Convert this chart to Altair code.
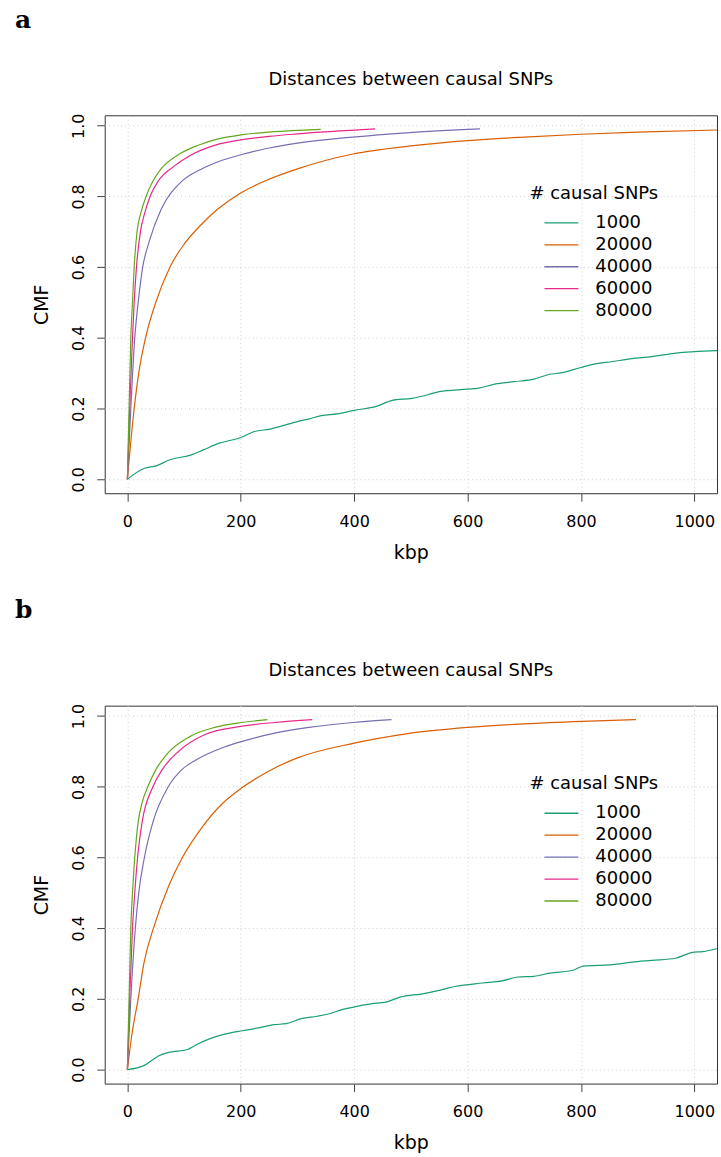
import altair as alt
import pandas as pd

SERIES = ["1000", "20000", "40000", "60000", "80000"]
COLORS = ["#1B9E77", "#D95F02", "#7570B3", "#E7298A", "#66A61E"]
X_TICKS = [0, 200, 400, 600, 800, 1000]
Y_TICKS = [0.0, 0.2, 0.4, 0.6, 0.8, 1.0]
TITLE = "Distances between causal SNPs"
LEGEND_TITLE = "# causal SNPs"

# ---------------- panel a ----------------
A_1000_KBP = [0, 30, 51, 75, 113, 134, 162, 200, 224, 252, 273, 300, 321, 342, 370, 400, 439, 467, 502,
              530, 550, 600, 620, 648, 682, 717, 745, 765, 800, 821, 856, 890, 925, 946, 980, 1000, 1040]
A_1000_CMF = [0, 0.031, 0.038, 0.055, 0.069, 0.083, 0.102, 0.118, 0.135, 0.142, 0.151, 0.163, 0.171, 0.180,
              0.185, 0.195, 0.206, 0.223, 0.229, 0.239, 0.248, 0.255, 0.258, 0.269, 0.276, 0.283, 0.297,
              0.301, 0.316, 0.325, 0.333, 0.341, 0.347, 0.352, 0.359, 0.361, 0.364]
A_20000_KBP = [0, 12, 20, 32, 50, 75, 100, 130, 160, 200, 246, 300, 398, 500, 600, 700, 800, 900, 1040]
A_20000_CMF = [0, 0.2, 0.3, 0.4, 0.5, 0.6, 0.665, 0.72, 0.765, 0.81, 0.846, 0.878, 0.92, 0.943, 0.958,
               0.968, 0.976, 0.982, 0.988]
A_40000_KBP = [0, 6, 13, 19, 27, 38, 60, 94, 130, 160, 200, 250, 300, 398, 492, 622]
A_40000_CMF = [0, 0.2, 0.4, 0.5, 0.6, 0.67, 0.765, 0.84, 0.877, 0.898, 0.918, 0.937, 0.951, 0.968, 0.98, 0.991]
A_60000_KBP = [0, 4, 9, 12, 16, 23, 30, 40, 55, 82, 110, 155, 200, 250, 300, 437]
A_60000_CMF = [0, 0.2, 0.4, 0.5, 0.6, 0.7, 0.75, 0.8, 0.845, 0.885, 0.915, 0.945, 0.96, 0.97, 0.977, 0.991]
A_80000_KBP = [0, 3, 6, 9, 12, 17, 24, 33, 44, 59, 94, 125, 160, 200, 250, 300, 341]
A_80000_CMF = [0, 0.2, 0.4, 0.5, 0.6, 0.7, 0.755, 0.8, 0.84, 0.877, 0.922, 0.945, 0.963, 0.974, 0.982, 0.987, 0.99]

# ---------------- panel b ----------------
B_1000_KBP = [0, 30, 54, 71, 106, 120, 148, 182, 203, 231, 259, 280, 307, 335, 356, 377, 405, 439, 453,
              481, 523, 550, 578, 627, 661, 689, 717, 745, 786, 804, 856, 890, 925, 967, 995, 1015, 1040]
B_1000_CMF = [0, 0.012, 0.038, 0.048, 0.057, 0.069, 0.089, 0.104, 0.110, 0.118, 0.127, 0.130, 0.144, 0.151,
              0.158, 0.169, 0.179, 0.188, 0.190, 0.205, 0.215, 0.224, 0.235, 0.245, 0.251, 0.262, 0.264,
              0.273, 0.281, 0.293, 0.297, 0.304, 0.309, 0.315, 0.331, 0.334, 0.342]
B_20000_KBP = [0, 8, 19, 29, 48, 73, 97, 131, 169, 200, 250, 300, 398, 492, 600, 700, 802, 897]
B_20000_CMF = [0, 0.1, 0.2, 0.3, 0.41, 0.52, 0.6, 0.684, 0.755, 0.795, 0.845, 0.882, 0.923, 0.95,
               0.968, 0.978, 0.985, 0.99]
B_40000_KBP = [0, 6, 14, 20, 30, 45, 72, 97, 120, 140, 170, 199, 258, 320, 398, 466]
B_40000_CMF = [0, 0.2, 0.4, 0.5, 0.6, 0.7, 0.8, 0.85, 0.875, 0.892, 0.912, 0.927, 0.951, 0.968, 0.982, 0.99]
B_60000_KBP = [0, 4, 9, 13, 18, 26, 45, 62, 90, 137, 200, 260, 326]
B_60000_CMF = [0, 0.2, 0.4, 0.5, 0.6, 0.7, 0.8, 0.85, 0.9, 0.948, 0.971, 0.982, 0.99]
B_80000_KBP = [0, 3, 6, 9, 13, 19, 26, 36, 50, 70, 110, 154, 201, 247]
B_80000_CMF = [0, 0.2, 0.4, 0.5, 0.6, 0.7, 0.755, 0.8, 0.848, 0.893, 0.942, 0.968, 0.982, 0.99]


def build(series_lists):
    rows = []
    for name, (xs, ys) in zip(SERIES, series_lists):
        for i, (x, y) in enumerate(zip(xs, ys)):
            rows.append({"snps": name, "kbp": x, "cmf": y, "i": i})
    return pd.DataFrame(rows)


DF_A = build([(A_1000_KBP, A_1000_CMF), (A_20000_KBP, A_20000_CMF), (A_40000_KBP, A_40000_CMF),
              (A_60000_KBP, A_60000_CMF), (A_80000_KBP, A_80000_CMF)])
DF_B = build([(B_1000_KBP, B_1000_CMF), (B_20000_KBP, B_20000_CMF), (B_40000_KBP, B_40000_CMF),
              (B_60000_KBP, B_60000_CMF), (B_80000_KBP, B_80000_CMF)])

W, H = 614, 379
FONT = "DejaVu Sans"


def panel(df, letter):
    lines = alt.Chart(df).mark_line(strokeWidth=1.2, clip=True, interpolate="monotone").encode(
        x=alt.X("kbp:Q", scale=alt.Scale(domain=[-40, 1040], nice=False, zero=False),
                axis=alt.Axis(values=X_TICKS, format="d", title="kbp", domain=False,
                              tickSize=8, tickColor="#444", tickWidth=1,
                              labelFont=FONT, labelFontSize=16, labelColor="black",
                              labelPadding=12, labelFlush=False, labelOverlap=False,
                              grid=True, gridColor="#cfcfcf", gridDash=[1, 3], gridWidth=1,
                              titleFont=FONT, titleFontSize=19, titleFontWeight="normal",
                              titleColor="black", titleX=307, titleY=65,
                              titleAlign="center", titleBaseline="alphabetic")),
        y=alt.Y("cmf:Q", scale=alt.Scale(domain=[-0.0396, 1.0296], nice=False, zero=False),
                axis=alt.Axis(values=Y_TICKS, format=".1f", title="CMF", domain=False,
                              tickSize=8, tickColor="#444", tickWidth=1,
                              labelFont=FONT, labelFontSize=16, labelColor="black",
                              labelAngle=270, labelAlign="center", labelBaseline="alphabetic",
                              labelPadding=13, labelFlush=False, labelOverlap=False,
                              grid=True, gridColor="#cfcfcf", gridDash=[1, 3], gridWidth=1,
                              titleFont=FONT, titleFontSize=19, titleFontWeight="normal",
                              titleColor="black", titleAngle=270, titleX=-57, titleY=189.5,
                              titleAlign="center", titleBaseline="alphabetic")),
        color=alt.Color("snps:N", sort=SERIES,
                        scale=alt.Scale(domain=SERIES, range=COLORS),
                        legend=alt.Legend(title=None, orient="none", legendX=440, legendY=97,
                                          symbolType="stroke", symbolSize=1156,
                                          symbolStrokeWidth=1.3, clipHeight=21.8, rowPadding=0,
                                          padding=0, labelFont=FONT, labelFontSize=18,
                                          labelColor="black", labelOffset=16)),
        order=alt.Order("i:Q"),
    )
    tag = alt.Chart(pd.DataFrame({"t": [letter]})).mark_text(
        font="DejaVu Serif", fontWeight="bold", fontSize=25, align="left",
        baseline="alphabetic", color="black"
    ).encode(text="t:N", x=alt.value(-90), y=alt.value(-88))
    title = alt.Chart(pd.DataFrame({"t": [TITLE]})).mark_text(
        font=FONT, fontSize=18, align="center", baseline="alphabetic", color="black"
    ).encode(text="t:N", x=alt.value(307), y=alt.value(-30))
    leg_title = alt.Chart(pd.DataFrame({"t": [LEGEND_TITLE]})).mark_text(
        font=FONT, fontSize=18, align="left", baseline="alphabetic", color="black"
    ).encode(text="t:N", x=alt.value(426), y=alt.value(84))
    return alt.layer(lines, tag, title, leg_title).properties(width=W, height=H)


chart = alt.vconcat(panel(DF_A, "a"), panel(DF_B, "b"), spacing=34).resolve_scale(
    color="independent"
).resolve_legend(color="independent").properties(
    padding={"left": 14, "top": 5, "right": 3, "bottom": 6}, background="white"
).configure_view(stroke="#333", strokeWidth=1)

chart.save("out.html", embed_options={"renderer": "svg", "actions": False})
